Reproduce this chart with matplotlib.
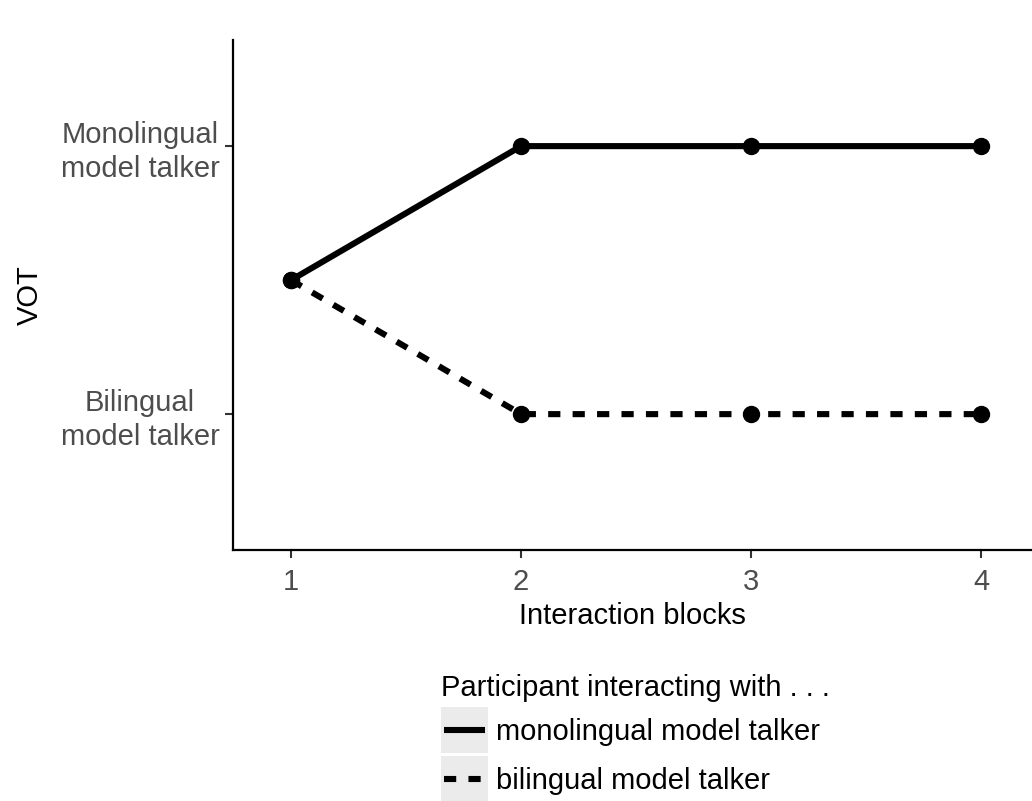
import matplotlib.pyplot as plt
from matplotlib.lines import Line2D
from matplotlib.patches import Rectangle
from matplotlib.legend_handler import HandlerLine2D

plt.rcParams['font.family'] = ['Liberation Sans', 'DejaVu Sans']

# data
blocks = [1, 2, 3, 4]
vot_mono = [0.5, 1, 1, 1]
vot_bi = [0.5, 0, 0, 0]
ytick_vals = [0, 1]
ytick_labels = ['Bilingual\nmodel talker', 'Monolingual\nmodel talker']
series_labels = ['monolingual model talker', 'bilingual model talker']
legend_title = 'Participant interacting with . . .'

LW = 4.4
DASH = (2.0, 2.0)
FS = 21
KEY_H = 46  # px, grey key box height


class KeyHandler(HandlerLine2D):
    # grey key background behind each legend line (ggplot style),
    # line centred on the label text rather than the handle box
    def create_artists(self, legend, orig_handle, xdescent, ydescent,
                       width, height, fontsize, trans):
        arts = super().create_artists(legend, orig_handle, xdescent, ydescent,
                                      width, height, fontsize, trans)
        yc = 0.34 * fontsize
        for a in arts:
            if isinstance(a, Line2D):
                a.set_ydata([yc] * len(a.get_xdata()))
        h = KEY_H * 72 / 100
        bg = Rectangle((-xdescent, yc - h / 2), width, h,
                       facecolor='#ebebeb', edgecolor='none', transform=trans)
        return [bg] + list(arts)


fig = plt.figure(figsize=(10.32, 8.01), dpi=100)
ax = fig.add_axes([233 / 1032, 1 - 550 / 801, 1 - 233 / 1032, 510 / 801])

ax.plot(blocks, vot_mono, color='black', lw=LW, marker='o', ms=11.5,
        solid_capstyle='butt', clip_on=False)
ax.plot(blocks, vot_bi, color='black', lw=LW, marker='o', ms=11.5,
        dashes=DASH, clip_on=False)

ax.set_xlim(0.748, 4.22)
ax.set_ylim(-0.507, 1.396)
ax.set_xticks(blocks)
ax.set_yticks(ytick_vals)
ax.set_yticklabels(ytick_labels, ha='center', linespacing=1.25)
ax.tick_params(axis='y', pad=61)
ax.tick_params(labelsize=FS, labelcolor='#4d4d4d', color='#333333',
               length=6, width=1.5)
ax.tick_params(axis='x', pad=7)

for side in ['top', 'right']:
    ax.spines[side].set_visible(False)
for side in ['left', 'bottom']:
    ax.spines[side].set_linewidth(1.6)

ax.set_xlabel('Interaction blocks', fontsize=FS, labelpad=4)
ax.set_ylabel('VOT', fontsize=FS, labelpad=12)

handles = [Line2D([], [], color='black', lw=LW, solid_capstyle='butt'),
           Line2D([], [], color='black', lw=LW, dashes=DASH)]
leg = fig.legend(handles, series_labels, title=legend_title,
                 loc='upper left', bbox_to_anchor=(441 / 1032, 1 - 674 / 801),
                 frameon=False, fontsize=FS, title_fontsize=FS,
                 handlelength=1.6, handleheight=1.835, labelspacing=0.25,
                 handletextpad=0.28, borderpad=0, borderaxespad=0,
                 alignment='left',
                 handler_map={Line2D: KeyHandler(marker_pad=0.1, numpoints=2)})

fig.savefig('out.png', dpi=100)
